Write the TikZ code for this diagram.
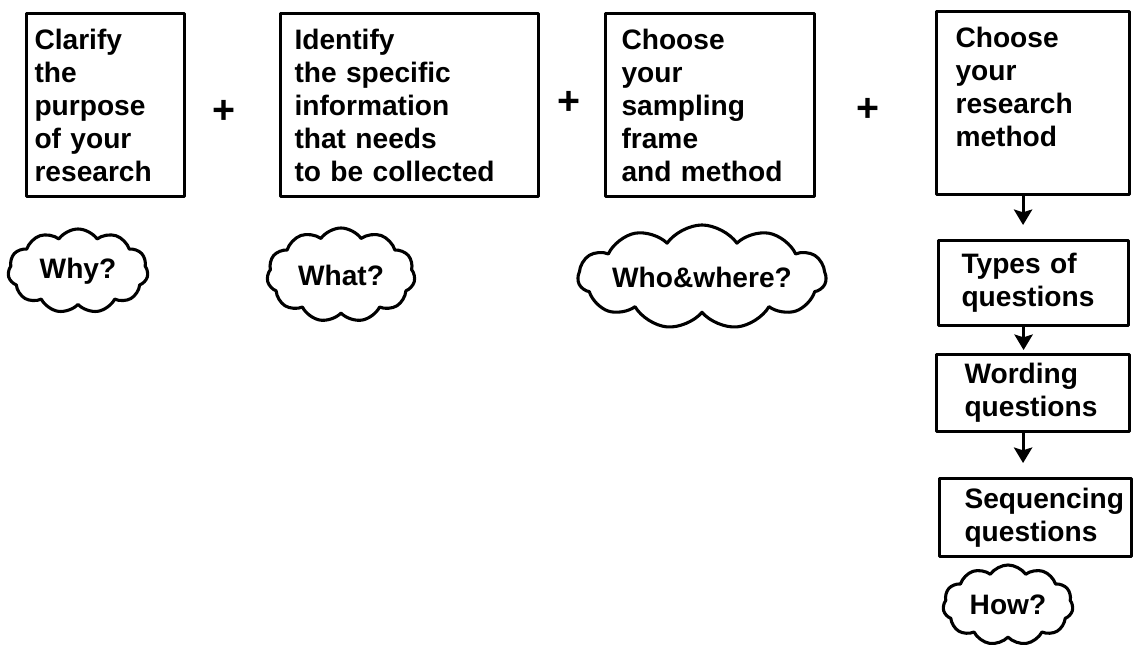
\documentclass[tikz,border=0pt]{standalone}
\usepackage{fontspec}
\newfontfamily\qfont[WordSpace=2]{Liberation Sans}
\usetikzlibrary{shapes.symbols,arrows.meta}
\begin{document}
\begin{tikzpicture}[x=.025cm,y=-.025cm,>={Stealth[length=11pt,width=13pt,inset=2pt]},line join=round,line cap=round,
	every node/.style={font=\qfont\bfseries\fontsize{20}{23.5}\selectfont},
	qbox/.style={draw,line width=2.2pt,anchor=north west,align=left,inner ysep=0pt},
	bubble/.style={draw,line width=2.2pt,cloud,cloud puffs=11,cloud puff arc=110,cloud ignores aspect,inner sep=0pt}]
	\useasboundingbox (0,0) rectangle (1133,646);
	\node[qbox,inner xsep=.2cm,text width=3.55cm,minimum height=4.575cm] (purpose) at (25,12) {Clarify\\the\\purpose\\of your\\research};
	\node[qbox,inner xsep=.35cm,text width=5.75cm,minimum height=4.575cm] (info) at (279,12) {Identify\\the specific\\information\\that needs\\to be collected};
	\node[qbox,inner xsep=.4cm,text width=4.425cm,minimum height=4.575cm] (sample) at (604,12) {Choose\\your\\sampling\\frame\\and method};
	\node[qbox,inner xsep=.475cm,text width=3.875cm,minimum height=4.575cm] (method) at (935,10) {Choose\\your\\research\\method\\\mbox{}};
	\node[qbox,inner xsep=.575cm,text width=3.6cm,minimum height=2.125cm] (types) at (937,239) {Types of\\questions};
	\node[qbox,inner xsep=.7cm,text width=3.425cm,minimum height=1.925cm] (wording) at (935,353) {Wording\\questions};
	\node[qbox,inner xsep=.625cm,text width=3.55cm,minimum height=1.95cm] (sequence) at (938,477) {\mbox{Sequencing}\\questions};
	\foreach \x/\y/\n in {224/112/plusa,569/103/plusb,868/110/plusc} \node[font=\qfont\bfseries\fontsize{28}{30}\selectfont] (\n) at (\x,\y) {+};
	\foreach \a/\b/\s in {method/types/.35cm,types/wording/.075cm,wording/sequence/.35cm}
		\draw[->,line width=2.2pt,shorten >=\s] ([xshift=-.25cm]\a.south)--([xshift=-.25cm]\a.south |- \b.north);
	\node[bubble,minimum width=3.5cm,minimum height=2.1cm] (why) at (78,271) {Why?};
	\node[bubble,minimum width=3.7cm,minimum height=2.35cm] (what) at (341,275) {What?};
	\node[bubble,minimum width=5.4cm,minimum height=2.6cm] (who) at (702,277) {Who\&where?};
	\node[bubble,minimum width=3.25cm,minimum height=2cm] (how) at (1008,605) {How?};
\end{tikzpicture}
\end{document}
